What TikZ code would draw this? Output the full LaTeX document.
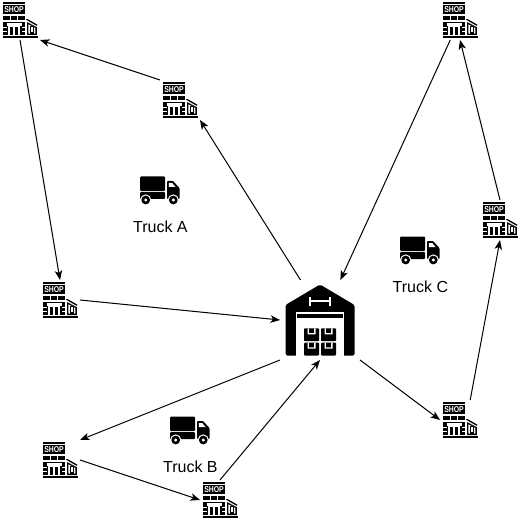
\documentclass[tikz,border=0pt]{standalone}
\usepackage{fontspec}
\setmainfont{Liberation Sans}
\usetikzlibrary{arrows.meta}
\tikzset{
  x=1pt,y=-1pt,
  portnode/.style={inner sep=0pt,outer sep=0pt},
  shopnode/.style={portnode,minimum width=40pt,minimum height=40pt},
  wnode/.style={portnode,minimum width=80pt,minimum height=80pt},
  flow/.style={draw=black,line width=1pt,-{Stealth[length=9.5pt,width=7.5pt,inset=2.5pt]}},
  lbl/.style={font=\fontsize{16}{19}\selectfont,text=black,inner sep=0pt},
  shop/.pic={
    \fill (-17.5,-18) rectangle (5.3,-16.2);
    \fill (-17,-14.8) rectangle (5,-5.6);
    \node[white,inner sep=0pt,xscale=.8,transform shape,font=\fontsize{8.6}{9}\bfseries\selectfont] (-) at (-6,-10.1) {SHOP};
    \fill (-17,-4) rectangle (5,0.2);
    \foreach \i in {-10,-3.5}{\fill[white] (\i,-4) rectangle (\i+.9,0.2);}
    \fill (-17,2) rectangle (5,15);
    \fill[white] (-13.5,3.4) rectangle (1.5,5.6);
    \fill[white] (-11.7,5.6) rectangle (0,15);
    \fill (-10,7) rectangle (-6.7,15);
    \fill (-5.3,7) rectangle (-2,15);
    \fill[white] (-17,7.2) rectangle (-13.5,8.4);
    \fill[white] (-17,10.6) rectangle (-13.5,11.8);
    \fill[white] (1.5,7.2) rectangle (5,8.4);
    \fill[white] (1.5,10.6) rectangle (5,11.8);
    \fill (-17.5,16.2) rectangle (17.5,18);
    \draw[line width=1.3pt] (6.5,-.8) -- (17,5.2);
    \fill (7,2) -- (16.8,7.2) -- (16.8,15) -- (7,15) -- cycle;
    \fill[white] (8.4,4.4) -- (15.4,8) -- (15.4,13.6) -- (8.4,13.6) -- cycle;
    \fill (9.8,6) rectangle (14,13.6);
    \fill[white] (11.1,7.4) rectangle (12.7,12.2);
  },
  truck/.pic={
    \fill[rounded corners=1pt] (-20,-13.5) rectangle (5,1);
    \fill[rounded corners=1pt] (-20,2) rectangle (5,9);
    \fill[rounded corners=.8pt] (7,-9) -- (13,-9) -- (19.5,-2) -- (19.5,9) -- (7,9) -- cycle;
    \fill[white] (8.8,-7) -- (12.2,-7) -- (15.5,-3) -- (8.8,-3) -- cycle;
    \foreach \c in {-14.3,13.3}{
      \fill[white] (\c,10) circle (5.6);
      \fill (\c,10) circle (4.4);
      \fill[white] (\c,10) circle (1.7);
    }
  },
  warehouse/.pic={
    \fill[rounded corners=1.5pt] (0,-35.5) -- (34.5,-15) -- (34.5,35.5) -- (-34.5,35.5) -- (-34.5,-15) -- cycle;
    \fill[white] (-24.4,-7.7) rectangle (24.4,35.5);
    \fill (-23,-6) rectangle (23,-2.3);
    \fill[white] (-10,-19.7) rectangle (10,-17.7);
    \fill[white] (-10.8,-23.3) rectangle (-9,-14.3);
    \fill[white] (9.2,-23.3) rectangle (11,-14.3);
    \foreach \bx/\by in {-16/8.3,1/8.3,-16/22.7,1/22.7}{
      \fill[rounded corners=.8pt] (\bx,\by) rectangle (\bx+15,\by+12.8);
      \fill[white] (\bx+3.5,\by) -- (\bx+3.5,\by+6) -- (\bx+11.5,\by+6) -- (\bx+11.5,\by) -- (\bx+10.2,\by) -- (\bx+10.2,\by+4.7) -- (\bx+4.8,\by+4.7) -- (\bx+4.8,\by) -- cycle;
    }
  }
}
\begin{document}
\begin{tikzpicture}
\useasboundingbox (0,0) rectangle (521,521);
\node[shopnode] (tl) at (20,20) {};
\node[shopnode] (sa) at (180,100) {};
\node[shopnode] (sb) at (60,300) {};
\node[shopnode] (sc) at (60,460) {};
\node[shopnode] (sd) at (220,500) {};
\node[shopnode] (se) at (460,420) {};
\node[shopnode] (sf) at (500,220) {};
\node[shopnode] (sg) at (460,20) {};
\node[wnode] (wh) at (320,320) {};
\foreach \n in {tl,sa,sb,sc,sd,se,sf,sg}{\pic at (\n) {shop};}
\pic at (wh) {warehouse};
\pic at (160,190) {truck};
\pic at (190,430) {truck};
\pic at (420,250) {truck};
\node[lbl] (la) at (160.4,226.4) {Truck A};
\node[lbl] (lb) at (190.4,466.4) {Truck B};
\node[lbl] (lc) at (420.4,286.4) {Truck C};
\draw[flow] (sa.north west) -- (tl.south east);
\draw[flow] (tl.south) -- (sb.north);
\draw[flow] (sb.east) -- (wh.west);
\draw[flow] (wh.116.565) -- (sa.south east);
\draw[flow] (wh.south west) -- (sc.north east);
\draw[flow] (sc.east) -- (sd.west);
\draw[flow] (sd.north) -- (wh.south);
\draw[flow] (wh.south east) -- (se.west);
\draw[flow] (se.63.435) -- (sf.south);
\draw[flow] (sf.north) -- (sg.south);
\draw[flow] (sg.-116.565) -- (wh.63.435);
\end{tikzpicture}
\end{document}
